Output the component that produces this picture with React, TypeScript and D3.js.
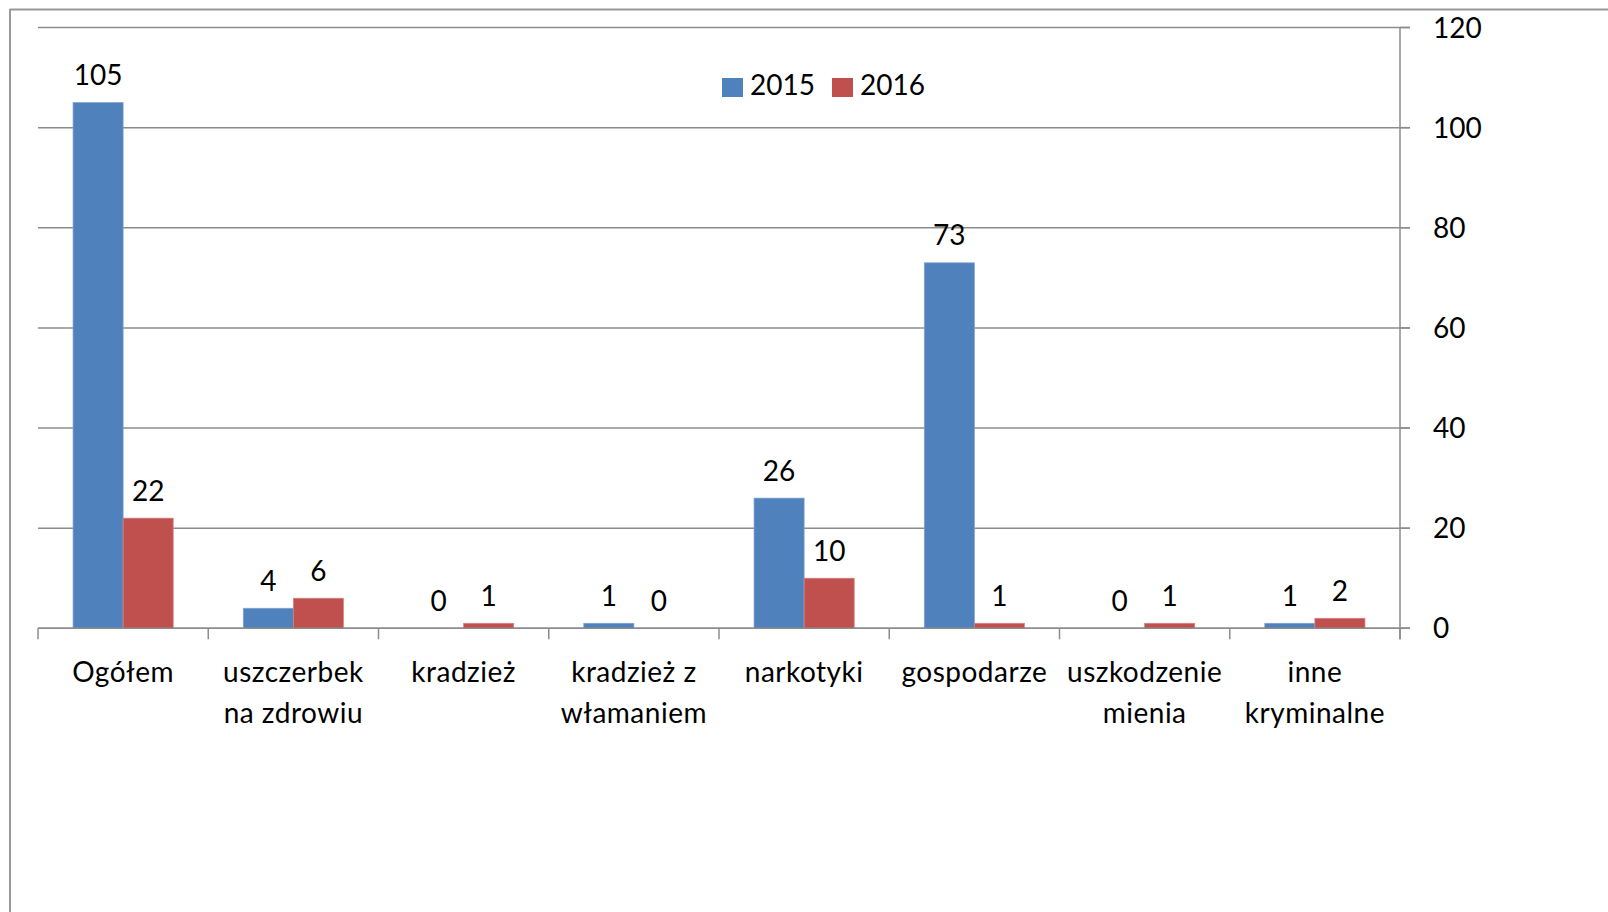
import React from "react";
import * as d3 from "d3";

const categories: string[][] = [
  ["Ogółem"],
  ["uszczerbek", "na zdrowiu"],
  ["kradzież"],
  ["kradzież z", "włamaniem"],
  ["narkotyki"],
  ["gospodarze"],
  ["uszkodzenie", "mienia"],
  ["inne", "kryminalne"],
];
const seriesNames = ["2015", "2016"];
const values2015 = [105, 4, 0, 1, 26, 73, 0, 1];
const values2016 = [22, 6, 1, 0, 10, 1, 1, 2];
const yTicks = [0, 20, 40, 60, 80, 100, 120];
const colors = ["#4F81BD", "#C0504D"];
const strokes = ["#7FA3D3", "#D8817F"];

const W = 1608;
const H = 912;
const FONT = "Lato, Calibri, 'Open Sans', sans-serif";

export default function App() {
  const left = 38;
  const right = 1400;
  const top = 27.5;
  const bottom = 628.3;
  const keys = categories.map((_, i) => String(i));
  const x = d3.scaleBand<string>().domain(keys).range([left, right]).padding(0);
  const xs = d3
    .scaleBand<string>()
    .domain(seriesNames)
    .range([0, x.bandwidth()])
    .paddingInner(0)
    .paddingOuter(0.7);
  const y = d3.scaleLinear().domain([0, 120]).range([bottom, top]);
  const data = [values2015, values2016];
  const step = x.step();

  return (
    <div style={{ position: "absolute", left: 0, top: 0 }}>
      <svg width={W} height={H} style={{ display: "block" }} fontFamily={FONT}>
        <rect x={0} y={0} width={W} height={H} fill="#fff" />
        {/* outer border */}
        <line x1={10} y1={9.5} x2={W} y2={9.5} stroke="#999" strokeWidth={2} />
        <line x1={10} y1={9} x2={10} y2={H} stroke="#999" strokeWidth={2} />
        {/* gridlines */}
        {yTicks.map((t) => (
          <line
            key={"g" + t}
            x1={left}
            x2={right + 10}
            y1={y(t)}
            y2={y(t)}
            stroke="#8c8c8c"
            strokeWidth={1.5}
          />
        ))}
        {/* bars */}
        {data.map((vals, si) =>
          vals.map((v, ci) => {
            const bx = (x(String(ci)) as number) + (xs(seriesNames[si]) as number);
            return (
              <rect
                key={`b${si}-${ci}`}
                x={bx}
                y={y(v)}
                width={xs.bandwidth()}
                height={bottom - y(v)}
                fill={colors[si]}
                stroke={v > 0 ? strokes[si] : "none"}
                strokeWidth={0.75}
              />
            );
          })
        )}
        {/* x axis */}
        <line x1={left} x2={right + 10} y1={bottom} y2={bottom} stroke="#8c8c8c" strokeWidth={1.5} />
        {d3.range(categories.length + 1).map((i) => (
          <line
            key={"xt" + i}
            x1={left + i * step}
            x2={left + i * step}
            y1={bottom}
            y2={bottom + 11}
            stroke="#8c8c8c"
            strokeWidth={1.5}
          />
        ))}
        {/* right axis */}
        <line x1={right} x2={right} y1={top} y2={bottom + 11} stroke="#8c8c8c" strokeWidth={1.5} />
        {yTicks.map((t) => (
          <g key={"yt" + t}>
            <line x1={right} x2={right + 10} y1={y(t)} y2={y(t)} stroke="#8c8c8c" strokeWidth={1.5} />
            <text x={right + 33} y={y(t) + 10} fontSize={28} fill="#000">
              {t}
            </text>
          </g>
        ))}
        {/* data labels */}
        {data.map((vals, si) =>
          vals.map((v, ci) => {
            const cx =
              (x(String(ci)) as number) + (xs(seriesNames[si]) as number) + xs.bandwidth() / 2;
            return (
              <text
                key={`l${si}-${ci}`}
                x={cx}
                y={y(v) - 17.5}
                fontSize={28}
                textAnchor="middle"
                fill="#000"
              >
                {v}
              </text>
            );
          })
        )}
        {/* category labels */}
        {categories.map((lines, ci) => (
          <text
            key={"c" + ci}
            x={(x(String(ci)) as number) + x.bandwidth() / 2}
            y={682}
            fontSize={28}
            letterSpacing={0.5}
            textAnchor="middle"
            fill="#000"
          >
            {lines.map((ln, li) => (
              <tspan key={li} x={(x(String(ci)) as number) + x.bandwidth() / 2} dy={li === 0 ? 0 : 41}>
                {ln}
              </tspan>
            ))}
          </text>
        ))}
        {/* legend */}
        {seriesNames.map((s, i) => {
          const lx = 722 + i * 110;
          return (
            <g key={"lg" + s}>
              <rect x={lx} y={78} width={21} height={19} fill={colors[i]} />
              <text x={lx + 28} y={95} fontSize={28} fill="#000">
                {s}
              </text>
            </g>
          );
        })}
      </svg>
    </div>
  );
}
